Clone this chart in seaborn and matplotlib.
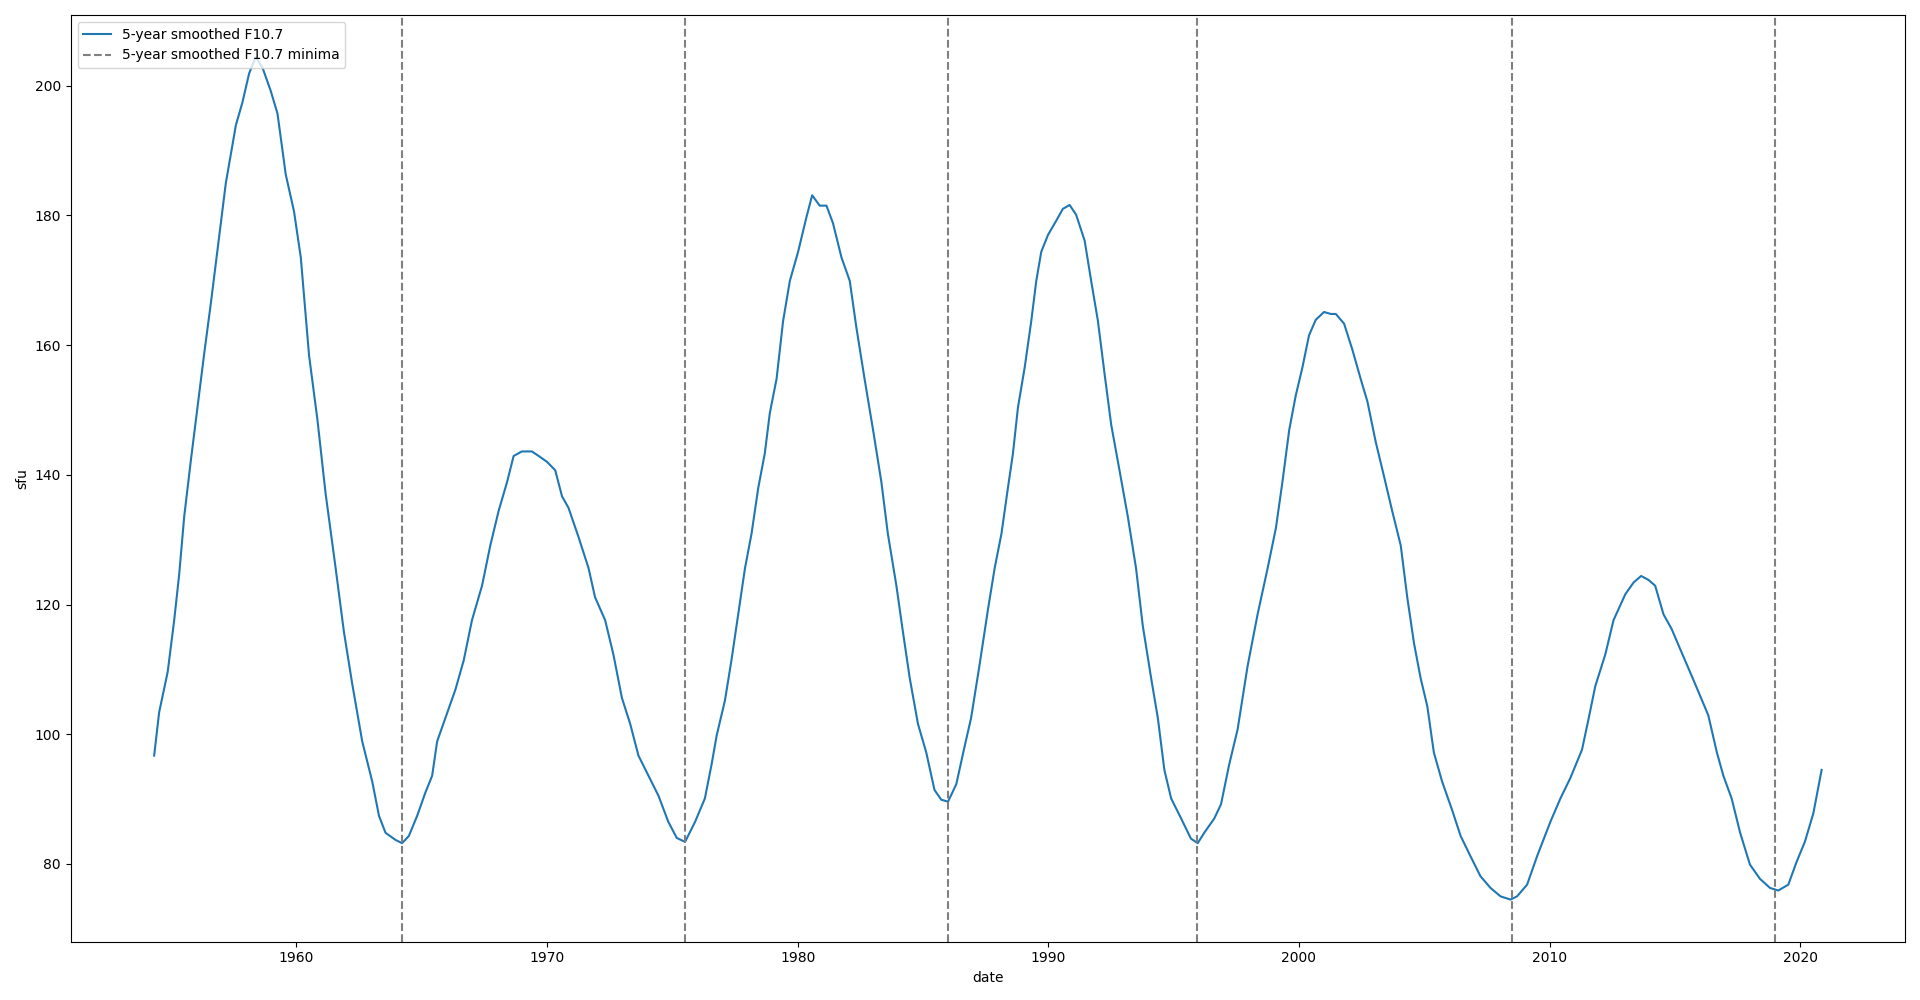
"""5-year smoothed F10.7 solar flux with cycle minima."""
import matplotlib
matplotlib.use("Agg")
import matplotlib.pyplot as plt
import seaborn as sns

# decimal years / smoothed flux (sfu)
YEARS = [
    1954.33, 1954.53, 1954.87, 1955.13, 1955.33, 1955.53, 1955.80, 1956.06, 1956.33, 1956.59,
    1956.79, 1956.99, 1957.19, 1957.39, 1957.59, 1957.85, 1958.12, 1958.38, 1958.65, 1958.98,
    1959.25, 1959.58, 1959.91, 1960.18, 1960.51, 1960.84, 1961.17, 1961.57, 1961.90, 1962.23,
    1962.63, 1963.03, 1963.30, 1963.56, 1963.96, 1964.22, 1964.49, 1964.82, 1965.15, 1965.42,
    1965.62, 1965.95, 1966.35, 1966.68, 1967.01, 1967.41, 1967.74, 1968.07, 1968.41, 1968.67,
    1969.00, 1969.40, 1969.67, 1970.00, 1970.33, 1970.60, 1970.86, 1971.26, 1971.66, 1971.92,
    1972.32, 1972.65, 1972.99, 1973.32, 1973.65, 1974.05, 1974.45, 1974.84, 1975.18, 1975.51,
    1975.91, 1976.30, 1976.57, 1976.77, 1977.10, 1977.36, 1977.63, 1977.90, 1978.16, 1978.43,
    1978.69, 1978.89, 1979.16, 1979.42, 1979.69, 1980.02, 1980.35, 1980.58, 1980.88, 1981.15,
    1981.41, 1981.75, 1982.08, 1982.34, 1982.67, 1983.01, 1983.34, 1983.60, 1983.94, 1984.20,
    1984.47, 1984.80, 1985.13, 1985.46, 1985.73, 1986.00, 1986.33, 1986.66, 1986.92, 1987.25,
    1987.60, 1987.86, 1988.13, 1988.39, 1988.59, 1988.79, 1989.06, 1989.32, 1989.52, 1989.72,
    1989.99, 1990.32, 1990.58, 1990.85, 1991.11, 1991.45, 1991.71, 1991.98, 1992.24, 1992.51,
    1992.84, 1993.17, 1993.50, 1993.77, 1994.10, 1994.37, 1994.63, 1994.90, 1995.30, 1995.69,
    1995.96, 1996.22, 1996.62, 1996.89, 1997.22, 1997.55, 1997.95, 1998.35, 1998.75, 1999.08,
    1999.34, 1999.61, 1999.87, 2000.14, 2000.40, 2000.67, 2001.00, 2001.27, 2001.47, 2001.80,
    2002.13, 2002.46, 2002.73, 2003.06, 2003.39, 2003.72, 2004.06, 2004.32, 2004.59, 2004.85,
    2005.12, 2005.38, 2005.71, 2006.11, 2006.45, 2006.84, 2007.24, 2007.64, 2008.04, 2008.44,
    2008.70, 2009.10, 2009.50, 2010.03, 2010.43, 2010.82, 2011.29, 2011.56, 2011.82, 2012.22,
    2012.55, 2013.02, 2013.35, 2013.65, 2013.94, 2014.21, 2014.54, 2014.87, 2015.21, 2015.60,
    2015.94, 2016.33, 2016.67, 2016.93, 2017.26, 2017.60, 2017.99, 2018.39, 2018.79, 2019.12,
    2019.52, 2019.85, 2020.18, 2020.52, 2020.85,
]
F107 = [
    96.7, 103.4, 109.6, 117.6, 124.7, 133.6, 142.4, 150.4, 158.8, 166.4,
    172.6, 178.8, 185.0, 189.5, 193.9, 197.4, 201.9, 204.4, 202.8, 199.2,
    195.7, 186.3, 180.6, 173.5, 158.4, 148.6, 137.1, 125.6, 115.8, 107.8,
    98.9, 92.7, 87.4, 84.8, 83.7, 83.2, 84.3, 87.4, 91.0, 93.6,
    98.9, 102.5, 106.9, 111.4, 117.6, 122.9, 129.1, 134.4, 138.9, 142.9,
    143.6, 143.6, 142.9, 142.0, 140.7, 136.7, 134.9, 130.4, 125.6, 121.1,
    117.6, 112.3, 105.6, 101.6, 96.7, 93.6, 90.5, 86.5, 84.0, 83.4,
    86.5, 90.1, 95.4, 99.8, 105.2, 111.4, 118.5, 125.6, 130.9, 138.0,
    143.3, 149.5, 154.8, 163.7, 169.9, 174.4, 179.7, 183.1, 181.5, 181.5,
    178.8, 173.5, 169.9, 162.8, 154.8, 146.9, 138.9, 130.9, 122.9, 115.8,
    108.7, 101.6, 97.2, 91.4, 89.9, 89.6, 92.3, 98.1, 102.5, 110.5,
    119.4, 125.6, 130.9, 138.0, 143.3, 150.4, 156.6, 163.7, 169.9, 174.4,
    177.0, 179.2, 181.0, 181.6, 180.1, 176.1, 169.9, 163.7, 155.7, 147.7,
    140.7, 133.6, 125.6, 116.7, 108.7, 102.5, 94.5, 90.1, 87.0, 83.9,
    83.2, 84.8, 87.0, 89.2, 95.4, 100.7, 110.5, 118.5, 125.6, 131.8,
    138.9, 146.9, 152.2, 156.6, 161.5, 163.9, 165.1, 164.8, 164.8, 163.3,
    159.3, 154.8, 151.3, 145.1, 139.8, 134.4, 129.1, 121.1, 114.0, 108.7,
    104.3, 97.2, 92.7, 88.3, 84.3, 81.2, 78.1, 76.3, 75.0, 74.5,
    75.0, 76.8, 81.2, 86.5, 90.1, 93.2, 97.6, 102.5, 107.4, 112.3,
    117.6, 121.6, 123.4, 124.4, 123.8, 122.9, 118.5, 116.2, 113.1, 109.6,
    106.5, 102.9, 97.2, 93.6, 90.1, 84.8, 79.9, 77.7, 76.3, 75.9,
    76.8, 80.3, 83.4, 87.8, 94.5,
]
MINIMA = [1964.22, 1975.5, 1986.0, 1995.95, 2008.5, 2019.0]

fig, ax = plt.subplots(figsize=(19.2, 10), dpi=100)

sns.lineplot(x=YEARS, y=F107, ax=ax, color="#1f77b4", linewidth=1.5,
             label="5-year smoothed F10.7")

for i, m in enumerate(MINIMA):
    ax.axvline(m, color="gray", linestyle="--", linewidth=1.5,
               label="5-year smoothed F10.7 minima" if i == 0 else None)

ax.set_xlabel("date")
ax.set_ylabel("sfu")
ax.legend(loc="upper left")

plt.tight_layout()
fig.savefig("out.png", dpi=100)
plt.close()
